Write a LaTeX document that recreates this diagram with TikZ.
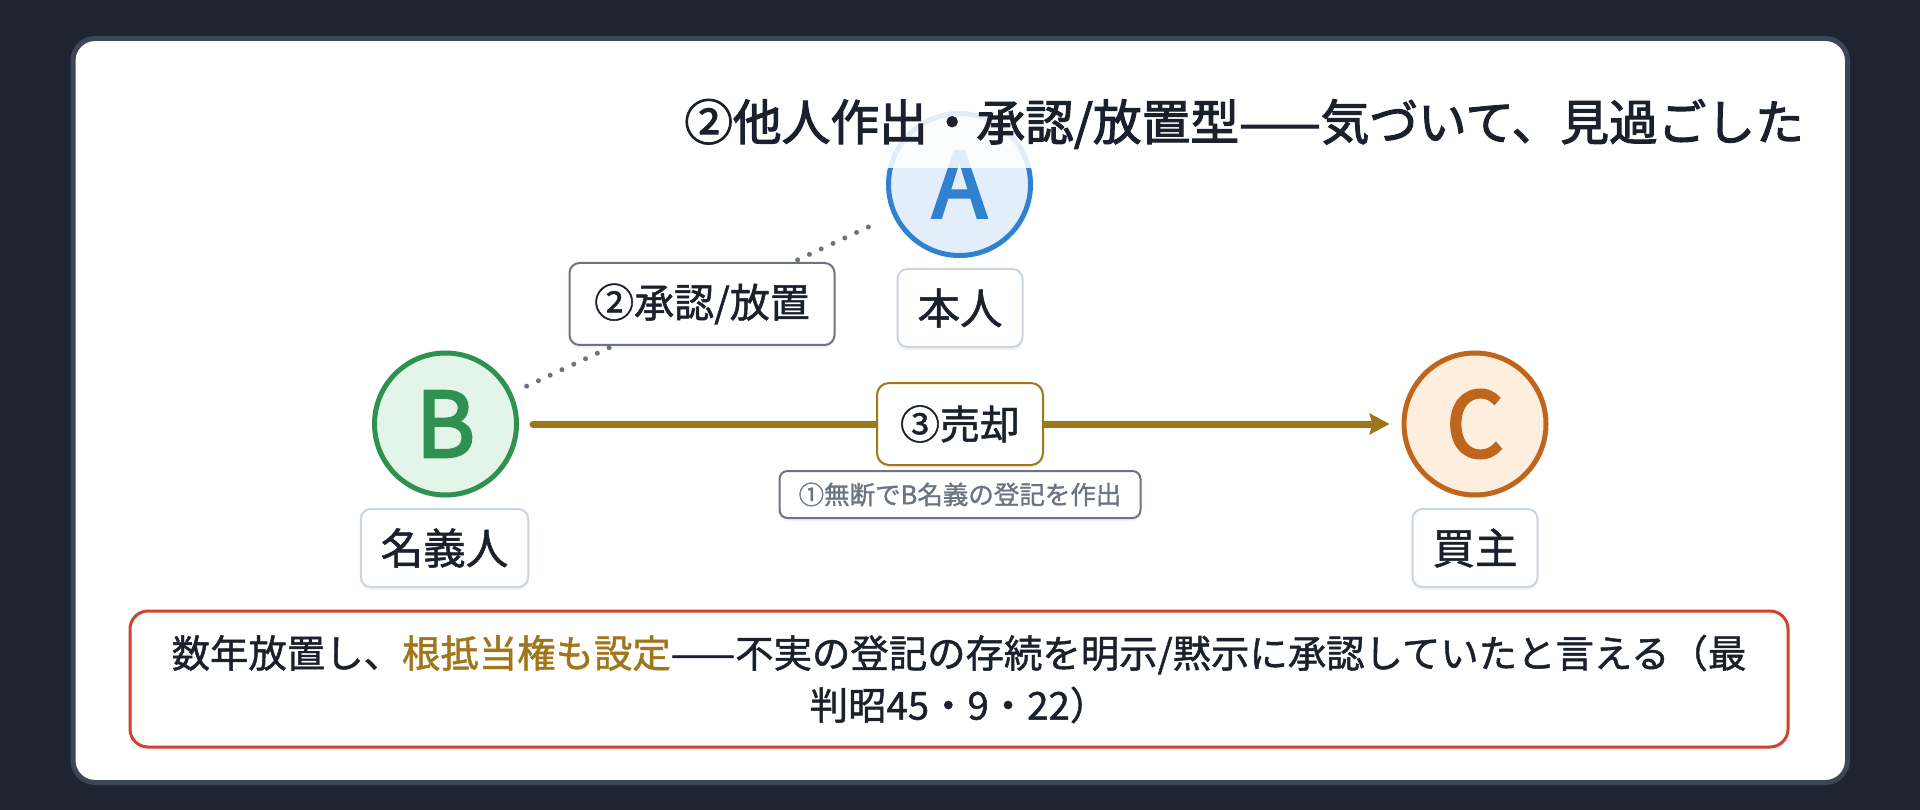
\documentclass[tikz,border=0pt]{standalone}
\usepackage{fontspec}
\setmainfont{Noto Sans CJK JP}[FakeBold=1.2]
\newfontfamily\titlefont{Noto Sans CJK JP}[FakeBold=2.2]
\newfontfamily\letterfont{Noto Sans CJK JP}[FakeBold=3]
\usetikzlibrary{arrows.meta,shadows}
\definecolor{bgdark}{HTML}{1E2430}
\definecolor{cardborder}{HTML}{3C4657}
\definecolor{txtdark}{HTML}{1A202C}
\definecolor{Ablue}{HTML}{3182CE}
\definecolor{Afill}{HTML}{E3EEFA}
\definecolor{Bgreen}{HTML}{2F9150}
\definecolor{Bfill}{HTML}{E3F5E8}
\definecolor{Corange}{HTML}{C0661C}
\definecolor{Cfill}{HTML}{FDEEDD}
\definecolor{gold}{HTML}{A0761A}
\definecolor{grayline}{HTML}{6B7480}
\definecolor{lblborder}{HTML}{CBD5E1}
\definecolor{redline}{HTML}{D0432F}
\tikzset{
  softshadow/.style={drop shadow={opacity=0.10, shadow xshift=0pt, shadow yshift=-3pt}},
  pcircle/.style={circle, line width=5pt, minimum size=142pt, inner sep=0pt, softshadow,
    font=\letterfont\fontsize{90pt}{90pt}\selectfont},
  namebox/.style={draw=lblborder, line width=2pt, fill=white, rounded corners=10pt,
    minimum height=78pt, inner xsep=20pt, inner ysep=0pt, text=txtdark, softshadow,
    font=\fontsize{42.5pt}{42.5pt}\selectfont},
  graybox/.style={draw=grayline, line width=2pt, fill=white, rounded corners=10pt,
    minimum height=82pt, minimum width=265pt, inner sep=0pt, text=txtdark, softshadow,
    font=\fontsize{40pt}{40pt}\selectfont},
  goldbox/.style={draw=gold, line width=2pt, fill=white, rounded corners=12pt,
    minimum height=82pt, minimum width=166pt, inner sep=0pt, text=txtdark, softshadow,
    font=\fontsize{40pt}{40pt}\selectfont},
  smallbox/.style={draw=grayline, line width=2pt, fill=white, rounded corners=8pt,
    minimum height=47pt, minimum width=361pt, inner sep=0pt, text=grayline, softshadow,
    font=\fontsize{25.5pt}{25.5pt}\selectfont},
  notebox/.style={draw=redline, line width=3pt, fill=white, rounded corners=18pt,
    minimum height=136pt, minimum width=1658pt, inner sep=0pt, text=txtdark, align=center,
    softshadow, font=\fontsize{38.4pt}{52pt}\selectfont},
  titlebox/.style={fill=white, fill opacity=0.85, text opacity=1, text=txtdark,
    minimum height=88pt, inner xsep=6pt, inner ysep=0pt,
    font=\titlefont\fontsize{48.7pt}{48.7pt}\selectfont},
  dotline/.style={grayline, line width=5pt, line cap=round, dash pattern=on 0pt off 13pt,
    shorten <=16pt, shorten >=16pt},
  sellarrow/.style={gold, line width=7pt, line cap=round,
    -{Stealth[length=20pt,width=21pt,inset=3pt]}, shorten <=14pt, shorten >=12pt}
}
\begin{document}
\begin{tikzpicture}[x=1pt,y=-1pt]
\useasboundingbox (0,0) rectangle (1920,810);
\fill[bgdark] (0,0) rectangle (1920,810);
\draw[cardborder, fill=white, line width=5pt, rounded corners=22pt] (73,38.5) rectangle (1847.5,782.5);
% circles
\node[pcircle, draw=Ablue, fill=Afill, text=Ablue] (A) at (959.5,184.5) {A};
\node[pcircle, draw=Bgreen, fill=Bfill, text=Bgreen] (B) at (445.5,424) {B};
\node[pcircle, draw=Corange, fill=Cfill, text=Corange] (C) at (1475,424) {C};
% connectors
\draw[dotline] (B) -- (A);
\draw[sellarrow] (B) -- (C);
% labels
\node[namebox] (lA) at (960,308) {本人};
\node[namebox] (lB) at (444.5,548) {名義人};
\node[namebox] (lC) at (1475,548) {買主};
\node[graybox] (e1) at (702,304) {②承認/放置};
\node[goldbox] (e2) at (960,424) {③売却};
\node[smallbox] (e3) at (960,494.5) {①無断でB名義の登記を作出};
% title
\node[titlebox, anchor=east] (title) at (1810,124) {②他人作出・承認/放置型——気づいて、見過ごした};
% note
\node[notebox] (note) at (959,679) {数年放置し、\textcolor{gold}{根抵当権も設定}——不実の登記の存続を明示/黙示に承認していたと言える（最\\判昭45・9・22）};
\end{tikzpicture}
\end{document}
